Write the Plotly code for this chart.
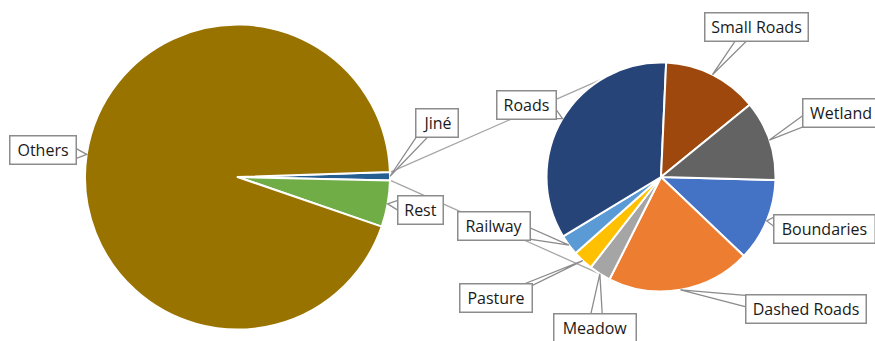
import math
import plotly.graph_objects as go

W, H = 875, 341

# Primary pie (shares of the whole, in %)
main_labels = ["Jiné", "Rest", "Others"]
main_values = [0.9, 4.9, 94.2]
main_colors = ["#255E91", "#70AD47", "#997300"]

# Secondary pie: breakdown of the "Jiné" slice (in %)
sub_labels = ["Boundaries", "Dashed Roads", "Meadow", "Pasture", "Railway",
              "Roads", "Small Roads", "Wetland"]
sub_values = [11.7, 20.3, 3.1, 2.9, 2.9, 34.4, 13.4, 11.3]
sub_colors = ["#4472C4", "#ED7D31", "#A5A5A5", "#FFC000", "#5B9BD5",
              "#264478", "#9E480E", "#636363"]

# Pie placement in pixels: centre x, centre y, radius, rotation (deg clockwise from 12 o'clock)
MAIN = dict(cx=237.5, cy=177.0, r=152.5, rot=88.1)
SUB = dict(cx=661.0, cy=177.0, r=114.5, rot=91.5)

# Callout boxes in pixels: centre x, centre y, width
BOX_H = 30
label_boxes = {
    "Others": (43, 150, 68), "Jiné": (437, 123, 44), "Rest": (420.5, 210, 47),
    "Roads": (526.5, 105.5, 61), "Small Roads": (756.5, 27, 105),
    "Wetland": (841, 113, 78), "Boundaries": (824.5, 229, 103),
    "Dashed Roads": (806, 308.5, 122), "Meadow": (595, 328, 84),
    "Pasture": (496, 298, 74), "Railway": (494, 226, 74),
}
GREY = "#8C8C8C"
PAD, BW = 3, 1.5


def domain(g):
    return dict(x=[(g["cx"] - g["r"]) / W, (g["cx"] + g["r"]) / W],
                y=[1 - (g["cy"] + g["r"]) / H, 1 - (g["cy"] - g["r"]) / H])


def point(g, ang):
    """Pixel point on the pie rim; ang is clockwise from 12 o'clock."""
    a = math.radians(ang)
    return g["cx"] + g["r"] * math.sin(a), g["cy"] - g["r"] * math.cos(a)


def slice_angle(g, values, i, frac):
    total = sum(values)
    return g["rot"] + 360 * (sum(values[:i]) + frac * values[i]) / total


def px(x, y):
    return x / W, 1 - y / H


def wedge_base(cx, cy, w, h, tx, ty, half=6.0, inset=3.0):
    """Two base points of a callout pointer on the box edge facing (tx, ty)."""
    dx, dy = tx - cx, ty - cy
    sx = (w / 2) / abs(dx) if dx else float("inf")
    sy = (h / 2) / abs(dy) if dy else float("inf")
    if sx < sy:
        ey = cy + dy * sx
        ex = cx + math.copysign(w / 2 - inset, dx)
        ey = min(max(ey, cy - h / 2 + half + 2), cy + h / 2 - half - 2)
        return (ex, ey - half), (ex, ey + half)
    ex = cx + dx * sy
    ey = cy + math.copysign(h / 2 - inset, dy)
    ex = min(max(ex, cx - w / 2 + half + 2), cx + w / 2 - half - 2)
    return (ex - half, ey), (ex + half, ey)


fig = go.Figure()
for g, labels, values, colors in [(MAIN, main_labels, main_values, main_colors),
                                  (SUB, sub_labels, sub_values, sub_colors)]:
    fig.add_trace(go.Pie(
        labels=labels, values=values, sort=False, direction="clockwise",
        rotation=g["rot"], domain=domain(g), textinfo="none",
        hoverinfo="label+percent",
        marker=dict(colors=colors, line=dict(color="white", width=2)),
    ))

# Connector lines from the "Jiné" slice to the secondary pie
j = main_labels.index("Jiné")
p_top = point(MAIN, slice_angle(MAIN, main_values, j, 0.0))
p_bot = point(MAIN, slice_angle(MAIN, main_values, j, 1.0))
q_top = point(SUB, 90 - 122)
q_bot = point(SUB, 90 + 122)
for (x0, y0), (x1, y1) in [(p_top, q_top), (p_bot, q_bot)]:
    a0, b0 = px(x0 + 1, y0)
    a1, b1 = px(x1, y1)
    fig.add_shape(type="line", xref="paper", yref="paper", x0=a0, y0=b0, x1=a1, y1=b1,
                  line=dict(color="#A6A6A6", width=1.3), layer="below")

# Callout labels: pointer wedge + boxed text
annotations = []
for g, labels, values in [(MAIN, main_labels, main_values), (SUB, sub_labels, sub_values)]:
    for i, lab in enumerate(labels):
        tx, ty = point(g, slice_angle(g, values, i, 0.5))
        bx, by, bw = label_boxes[lab]
        (ax0, ay0), (ax1, ay1) = wedge_base(bx, by, bw, BOX_H, tx, ty)
        pts = [px(tx, ty), px(ax0, ay0), px(ax1, ay1)]
        path = "M {:.5f},{:.5f} L {:.5f},{:.5f} L {:.5f},{:.5f} Z".format(
            *[c for p in pts for c in p])
        fig.add_shape(type="path", xref="paper", yref="paper", path=path,
                      fillcolor="white", line=dict(color=GREY, width=1.3),
                      layer="above")
        x, y = px(bx, by)
        annotations.append(dict(
            x=x, y=y, xref="paper", yref="paper", xanchor="center", yanchor="middle",
            text=lab, showarrow=False,
            width=bw - 2 * PAD - 2 * BW, height=BOX_H - 2 * PAD - 2 * BW,
            align="center", valign="middle",
            font=dict(family="Open Sans", size=16, color="#1A1A1A"),
            bgcolor="white", bordercolor=GREY, borderwidth=BW, borderpad=PAD,
        ))

fig.update_layout(
    width=W, height=H, margin=dict(l=0, r=0, t=0, b=0),
    paper_bgcolor="white", plot_bgcolor="white",
    showlegend=False, annotations=annotations,
)

fig.write_html("out.html")
